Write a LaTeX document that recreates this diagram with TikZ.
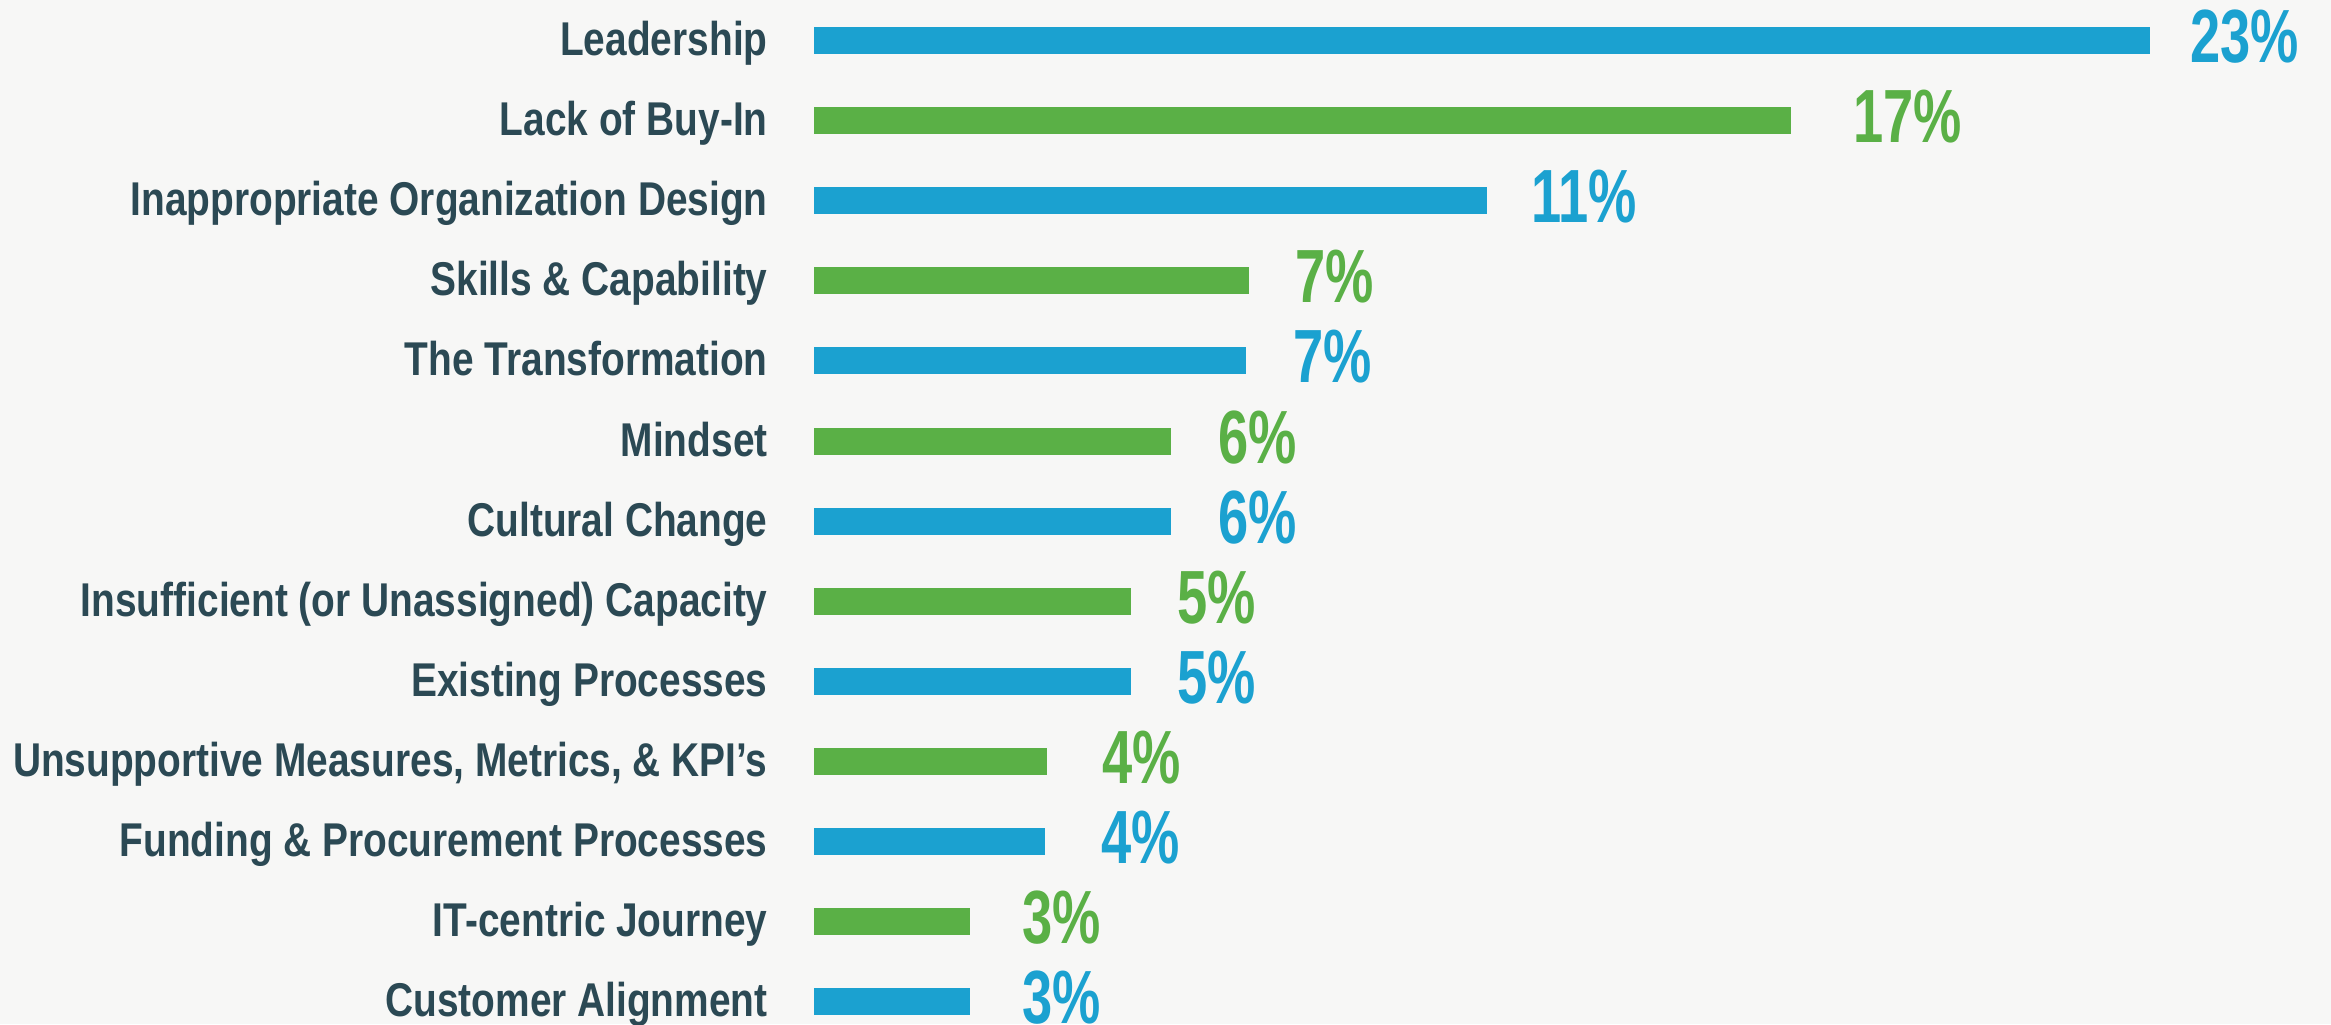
\documentclass[tikz,border=0pt]{standalone}
\usepackage{fontspec}
\newfontfamily\labfont[FakeStretch=0.82]{Liberation Sans}
\newfontfamily\pctfont[FakeStretch=0.72]{Liberation Sans}
\definecolor{barblue}{HTML}{1BA1D0}
\definecolor{bargreen}{HTML}{5AB046}
\definecolor{labtext}{HTML}{2B4954}
\definecolor{bgcol}{HTML}{F7F7F6}
\tikzset{
  catlabel/.style={anchor=base east, inner sep=0pt, text=labtext,
    font=\labfont\bfseries\fontsize{23.7}{26}\selectfont},
  pctlabel/.style={anchor=base west, inner sep=0pt,
    font=\pctfont\bfseries\fontsize{37.7}{40}\selectfont},
  bluebar/.style={fill=barblue, draw=none},
  greenbar/.style={fill=bargreen, draw=none}
}
\begin{document}
\begin{tikzpicture}[x=0.5pt,y=-0.5pt]
\fill[bgcol] (0,0) rectangle (2331,1024);
\useasboundingbox (0,0) rectangle (2331,1024);
\foreach \i/\lab/\len/\pct/\col/\off in {
  0/Leadership/2150/23/blue/40,
  1/Lack of Buy-In/1791/17/green/62,
  2/Inappropriate Organization Design/1487/11/blue/44,
  3/Skills \& Capability/1249/7/green/46,
  4/The Transformation/1246/7/blue/47,
  5/Mindset/1171/6/green/47,
  6/Cultural Change/1171/6/blue/47,
  7/Insufficient (or Unassigned) Capacity/1131/5/green/46,
  8/Existing Processes/1131/5/blue/46,
  9/{Unsupportive Measures, Metrics, \& KPI’s}/1047/4/green/55,
  10/Funding \& Procurement Processes/1045/4/blue/56,
  11/IT-centric Journey/970/3/green/52,
  12/Customer Alignment/970/3/blue/52}{
  \pgfmathsetmacro{\yc}{40.5+80.1*\i}
  \node[\col bar, minimum width={(\len-814)*0.5pt}, minimum height=13.5pt,
        inner sep=0pt, anchor=west] (bar\i) at (814,\yc) {};
  \node[catlabel] (lab\i) at (768,\yc+15) {\lab};
  \node[pctlabel, text=bar\col] (pct\i) at (\len+\off,\yc+22) {\pct\%};
}
\end{tikzpicture}
\end{document}
